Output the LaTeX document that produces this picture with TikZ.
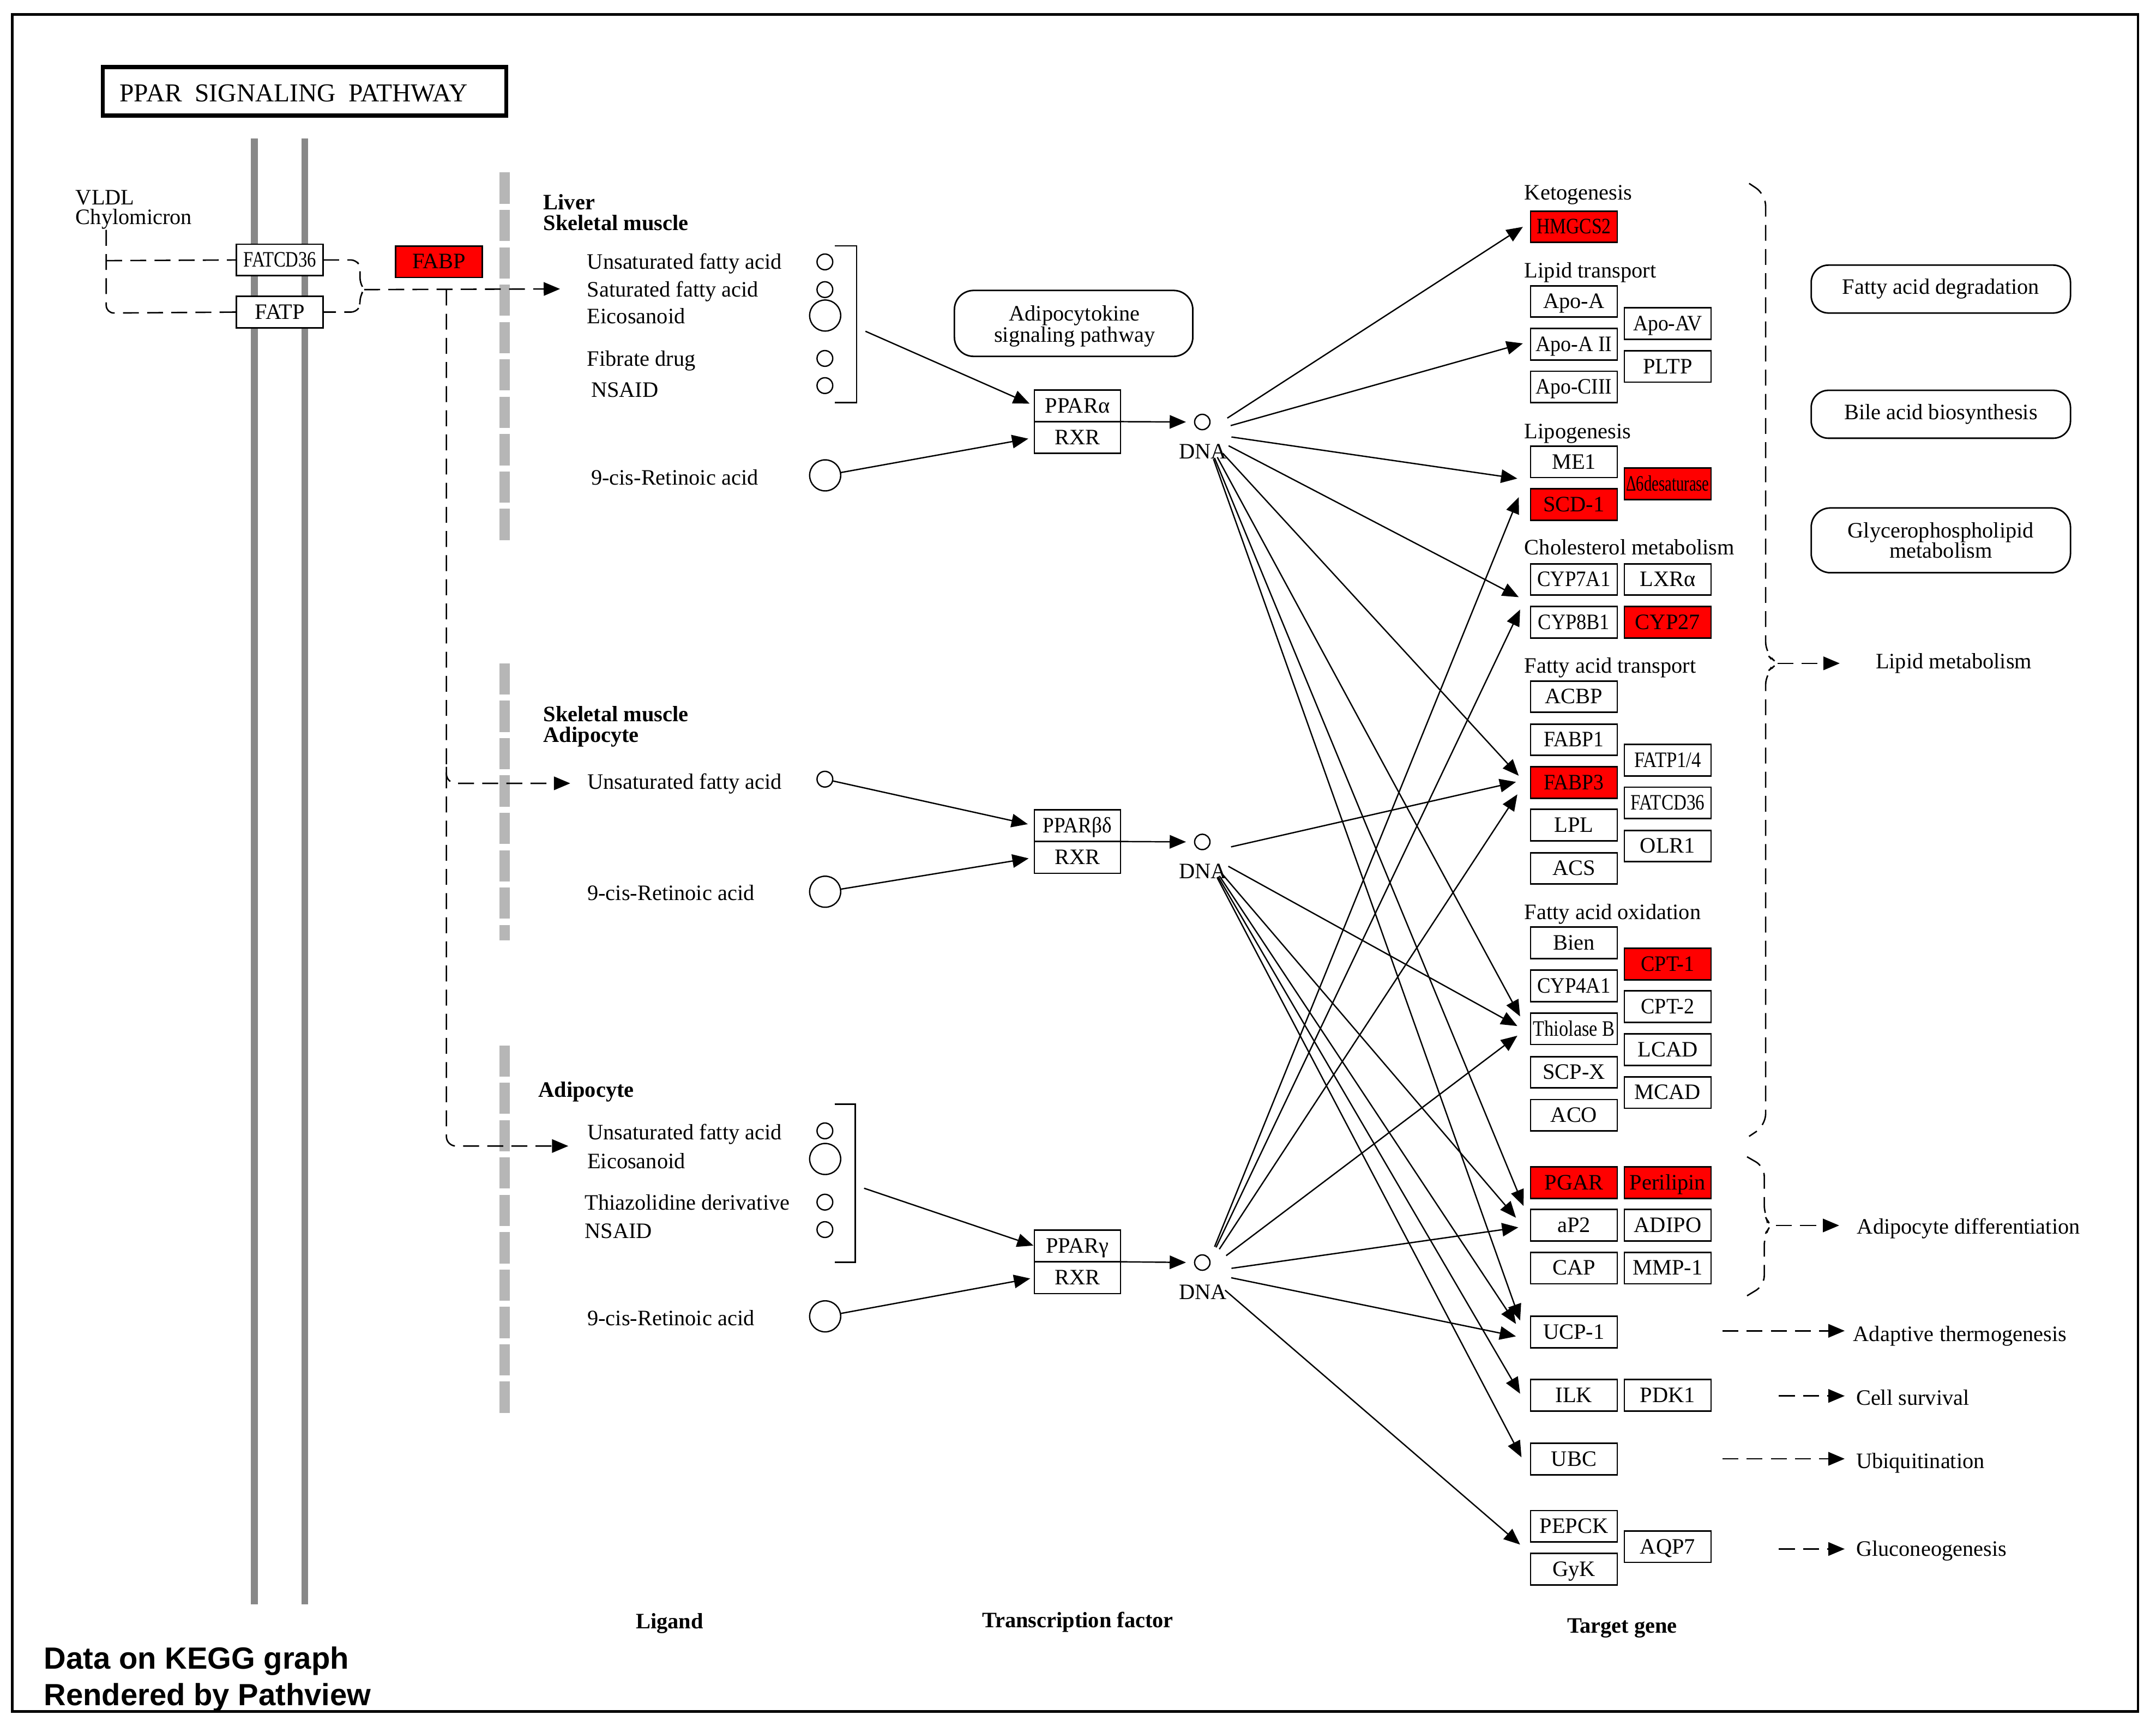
\documentclass[tikz,border=0pt]{standalone}
\usepackage{fontspec}
\usepackage{graphicx}
\setmainfont{Liberation Serif}
\newfontfamily\sansfam{Liberation Sans}
\usetikzlibrary{arrows.meta}
\definecolor{kred}{RGB}{255,0,0}
\definecolor{memgray}{RGB}{136,136,136}
\definecolor{nucgray}{RGB}{182,182,182}
\newcommand{\gf}{\fontsize{11.5}{12}\selectfont}
\newcommand{\sq}[2]{\scalebox{#1}[1]{#2}}
\begin{document}
\begin{tikzpicture}[x=0.0253cm,y=-0.0253cm,
 every node/.style={inner sep=0pt,outer sep=0pt},
 lbl/.style={anchor=base west,font=\gf},
 blbl/.style={anchor=base west,font=\gf\bfseries},
 gene/.style={draw,line width=0.8pt,fill=white,minimum width=45.2pt,minimum height=16.4pt,font=\gf,text height=7.6pt,text depth=0.3pt},
 hit/.style={gene,fill=kred},
 tf/.style={draw,line width=0.8pt,fill=white,minimum width=45pt,minimum height=16.6pt,font=\gf,text height=7.6pt,text depth=0.3pt},
 lig/.style={draw,circle,line width=0.7pt,minimum size=8.2pt},
 bigl/.style={draw,circle,line width=0.7pt,minimum size=16.2pt},
 dnac/.style={draw,circle,line width=0.7pt,minimum size=8pt},
 dnal/.style={font=\gf,text height=7.6pt,text depth=0pt},
 dzone/.style={circle,minimum size=28.7pt},
 tri/.style={-{Triangle[length=8.5pt,width=7pt]}},
 arr/.style={tri,line width=0.7pt},
 kdash/.style={line width=0.75pt,dash pattern=on 8.3pt off 4.3pt},
 pwbox/.style={draw,line width=0.8pt,align=center},
]
\useasboundingbox (0,0) rectangle (1563,1252);
\fill[white] (0,0) rectangle (1563,1252);
% outer frame
\draw[line width=1.3pt] (8.9,10.5) rectangle (1550,1241);
% title
\node[draw,line width=2.2pt,minimum width=210.6pt,minimum height=25.4pt] (titlebox) at (220.75,66.2) {};
\node[anchor=base west,font=\fontsize{13.5}{14}\selectfont] (titletext) at (86.8,73.8) {PPAR\ \ SIGNALING\ \ PATHWAY};
% membranes
\draw[line width=3.6pt,memgray] (184.5,100.5) -- (184.5,1163.2);
\draw[line width=3.6pt,memgray] (221,100.5) -- (221,1163.2);
\draw[line width=5.4pt,nucgray,dash pattern=on 16.3pt off 3.2pt] (366,125.1) -- (366,392.6);
\draw[line width=5.4pt,nucgray,dash pattern=on 16.3pt off 3.2pt] (366,481) -- (366,682);
\draw[line width=5.4pt,nucgray,dash pattern=on 16.3pt off 3.2pt] (366,758) -- (366,1025.5);
% VLDL
\node[lbl] (vldl) at (54.9,148.5) {VLDL};
\node[lbl] (chylo) at (54.9,162.5) {Chylomicron};
\node[gene] (fatcdL) at (202.9,188.5) {\sq{0.81}{FATCD36}};
\node[gene] (fatpL) at (202.9,226.3) {FATP};
\node[hit] (fabp) at (318.3,189.8) {FABP};
\draw[kdash,rounded corners=4pt] (77,166.7) -- (77,227) -- (fatpL.west);
\draw[kdash] (77,189) -- (fatcdL.west);
\coordinate (bt) at (264,210);
\draw[kdash,rounded corners=2.5pt] (fatcdL.east) -- (258,188.5) -- (261,193) -- (261,205) -- (bt) -- (261,215) -- (261,222) -- (258,226.3) -- (fatpL.east);
\coordinate (fa1) at (406,209.5);
\coordinate (fa2) at (413.4,568);
\coordinate (fa3) at (412,831);
\draw[kdash,tri] (bt) -- (fa1);
\draw[kdash,tri,rounded corners=5pt] (323.6,210) -- (323.6,831) -- (fa3);
\draw[kdash,tri,rounded corners=5pt] (323.6,556) -- (323.6,568) -- (fa2);
% ---------- section 1
\node[blbl] (liver) at (394,152) {Liver};
\node[blbl] (skm1) at (394,167) {Skeletal muscle};
\node[lbl] (t1a) at (425.7,195.2) {Unsaturated fatty acid};
\node[lbl] (t1b) at (425.7,215.2) {Saturated fatty acid};
\node[lbl] (t1c) at (425.7,234.5) {Eicosanoid};
\node[lbl] (t1d) at (425.7,265.5) {Fibrate drug};
\node[lbl] (t1e) at (428.5,288) {NSAID};
\node[lbl] (t1f) at (428.5,351.5) {9-cis-Retinoic acid};
\node[lig] (c1a) at (598,189.9) {};
\node[lig] (c1b) at (598,210) {};
\node[bigl] (c1c) at (598.2,228.8) {};
\node[lig] (c1d) at (598,259.9) {};
\node[lig] (c1e) at (598,279.6) {};
\node[bigl] (ret1) at (598.2,344.7) {};
\draw[line width=0.8pt] (605,178.3) -- (621,178.3) -- (621,292) -- (605,292);
\node[tf] (ppara) at (781.1,294.2) {PPARα};
\node[tf] (rxra) at (781.1,317.3) {RXR};
\coordinate (brk1) at (627.4,240.2);
\draw[arr,shorten >=2.7pt] (brk1) -- (ppara.west);
\draw[arr,shorten >=3.2pt] (ret1) -- (rxra.west);
\node[draw,line width=0.8pt,rounded corners=10pt,minimum width=124.4pt,minimum height=34.4pt] (adipok) at (778.3,234.5) {};
\node[font=\fontsize{11.5}{10.9}\selectfont,align=center] (adipokt) at (779,236.5) {Adipocytokine\\signaling pathway};
\node[dnac] (dna1) at (871.6,306) {};
\node[dnal] (dnal1) at (872,327.3) {DNA};
\draw[arr,shorten >=4.5pt] (ppara.south east) -- (dna1.west);
% ---------- section 2
\node[blbl] (skm2) at (394,523) {Skeletal muscle};
\node[blbl] (adc2) at (394,538) {Adipocyte};
\node[lbl] (t2a) at (425.8,572) {Unsaturated fatty acid};
\node[lbl] (t2b) at (425.8,653) {9-cis-Retinoic acid};
\node[lig] (uf2) at (598,565) {};
\node[bigl] (ret2) at (598.2,646.6) {};
\node[tf] (pparb) at (781.1,598.65) {\sq{0.92}{PPARβδ}};
\node[tf] (rxrb) at (781.1,621.75) {RXR};
\draw[arr,shorten >=3.5pt] (uf2) -- (pparb.west);
\draw[arr,shorten >=3pt] (ret2) -- (rxrb.west);
\node[dnac] (dna2) at (871.6,610.5) {};
\node[dnal] (dnal2) at (872,631.8) {DNA};
\draw[arr,shorten >=4.5pt] (pparb.south east) -- (dna2.west);
% ---------- section 3
\node[blbl] (adc3) at (390.4,795.5) {Adipocyte};
\node[lbl] (t3a) at (425.8,826.5) {Unsaturated fatty acid};
\node[lbl] (t3b) at (425.8,847.2) {Eicosanoid};
\node[lbl] (t3c) at (423.9,877.2) {Thiazolidine derivative};
\node[lbl] (t3d) at (423.9,898) {NSAID};
\node[lbl] (t3e) at (425.8,961) {9-cis-Retinoic acid};
\node[lig] (c3a) at (598,820) {};
\node[bigl] (c3b) at (598.2,840.4) {};
\node[lig] (c3c) at (598,871.7) {};
\node[lig] (c3d) at (598,891.6) {};
\node[bigl] (ret3) at (598.2,954.5) {};
\draw[line width=0.8pt] (605,800.6) -- (620,800.6) -- (620,915.2) -- (605,915.2);
\node[tf] (pparg) at (781.1,903.4) {PPARγ};
\node[tf] (rxrg) at (781.1,926.5) {RXR};
\coordinate (brk3) at (626.4,861.6);
\draw[arr,shorten >=0.5pt] (brk3) -- (pparg.west);
\draw[arr,shorten >=2.2pt] (ret3) -- (rxrg.west);
\node[dnac] (dna3) at (871.6,915.5) {};
\node[dnal] (dnal3) at (872,936.8) {DNA};
\draw[arr,shorten >=4.5pt] (pparg.south east) -- (dna3.west);
% bottom labels
\node[font=\gf\bfseries,anchor=base] (ligand) at (485.4,1181) {Ligand};
\node[font=\gf\bfseries,anchor=base] (tfac) at (781.3,1180) {Transcription factor};
\node[font=\gf\bfseries,anchor=base] (tgene) at (1176,1184) {Target gene};
\node[anchor=base west,font=\sansfam\bfseries\fontsize{16}{18}\selectfont] (pv1) at (31.9,1210.2) {Data on KEGG graph};
\node[anchor=base west,font=\sansfam\bfseries\fontsize{16}{18}\selectfont] (pv2) at (31.9,1236.5) {Rendered by Pathview};
% ---------- target genes
\node[lbl] (gketo) at (1105.2,145) {Ketogenesis};
\node[lbl] (glipt) at (1105.2,201.4) {Lipid transport};
\node[lbl] (glipo) at (1105.2,318.2) {Lipogenesis};
\node[lbl] (gchol) at (1105.2,402.2) {Cholesterol metabolism};
\node[lbl] (gfat) at (1105.2,487.9) {Fatty acid transport};
\node[lbl] (gfao) at (1105.2,666.7) {Fatty acid oxidation};
\node[hit] (hmgcs2) at (1141,164.4) {\sq{0.83}{HMGCS2}};
\node[gene] (apoa) at (1141,218.6) {Apo-A};
\node[gene] (apoa2) at (1141,249.7) {\sq{0.94}{Apo-A II}};
\node[gene] (apoc3) at (1141,280.6) {\sq{0.93}{Apo-CIII}};
\node[gene] (me1) at (1141,334.9) {ME1};
\node[hit] (scd1) at (1141,365.9) {SCD-1};
\node[gene] (cyp7a1) at (1141,420.2) {\sq{0.91}{CYP7A1}};
\node[gene] (cyp8b1) at (1141,451.3) {\sq{0.9}{CYP8B1}};
\node[gene] (acbp) at (1141,505.2) {ACBP};
\node[gene] (fabp1) at (1141,536.4) {\sq{0.93}{FABP1}};
\node[hit] (fabp3) at (1141,567.4) {\sq{0.93}{FABP3}};
\node[gene] (lpl) at (1141,598.3) {LPL};
\node[gene] (acs) at (1141,629.7) {ACS};
\node[gene] (bien) at (1141,683.6) {Bien};
\node[gene] (cyp4a1) at (1141,714.9) {\sq{0.91}{CYP4A1}};
\node[gene] (thiob) at (1141,746) {\sq{0.85}{Thiolase B}};
\node[gene] (scpx) at (1141,777.5) {SCP-X};
\node[gene] (aco) at (1141,808.7) {ACO};
\node[hit] (pgar) at (1141,857.6) {PGAR};
\node[gene] (ap2) at (1141,888.4) {aP2};
\node[gene] (cap) at (1141,919.5) {CAP};
\node[gene] (ucp1) at (1141,965.9) {UCP-1};
\node[gene] (ilk) at (1141,1011.7) {ILK};
\node[gene] (ubc) at (1141,1058) {UBC};
\node[gene] (pepck) at (1141,1106.7) {PEPCK};
\node[gene] (gyk) at (1141,1137.8) {GyK};
\node[gene] (apoav) at (1209,234.6) {\sq{0.93}{Apo-AV}};
\node[gene] (pltp) at (1209,265.7) {PLTP};
\node[hit] (d6) at (1209,350.9) {\sq{0.71}{Δ6desaturase}};
\node[gene] (lxra) at (1209,420.2) {LXRα};
\node[hit] (cyp27) at (1209,451.3) {CYP27};
\node[gene] (fatp14) at (1209,551.3) {\sq{0.86}{FATP1/4}};
\node[gene] (fatcd36) at (1209,582.2) {\sq{0.82}{FATCD36}};
\node[gene] (olr1) at (1209,613.5) {OLR1};
\node[hit] (cpt1) at (1209,699) {\sq{0.94}{CPT-1}};
\node[gene] (cpt2) at (1209,729.9) {\sq{0.94}{CPT-2}};
\node[gene] (lcad) at (1209,761.2) {LCAD};
\node[gene] (mcad) at (1209,792.2) {MCAD};
\node[hit] (perilipin) at (1209,857.6) {Perilipin};
\node[gene] (adipo) at (1209,888.4) {ADIPO};
\node[gene] (mmp1) at (1209,919.5) {MMP-1};
\node[gene] (pdk1) at (1209,1011.7) {PDK1};
\node[gene] (aqp7) at (1209,1121.5) {AQP7};
% ---------- DNA -> target edges
\node[dzone] (dz1) at (873,314) {};
\node[dzone] (dz2) at (873,618.5) {};
\node[dzone] (dz3) at (873,922.5) {};
\foreach \n/\x/\y in {a1/1104/164.5, a2/1104/249, a3/1100/347, a4/1101/433, a5/1101/562.5, a6/1102/737, a7/1104.5/874.5, a8/1102/957.5,
  b1/1099/567, b2/1100/744, b3/1099/883, b4/1099/960, b5/1102/1010.6, b6/1103/1056.7,
  c1/1101/360.5, c2/1102/442, c3/1100/576, c4/1100/751, c5/1100.7/890, c6/1099/969, c7/1102/1120}
  {\coordinate (\n) at (\x,\y);}
\foreach \t in {a1,a2,a3,a4,a5,a6,a7,a8} {\draw[arr] (dz1) -- (\t);}
\foreach \t in {b1,b2,b3,b4,b5,b6} {\draw[arr] (dz2) -- (\t);}
\foreach \t in {c1,c2,c3,c4,c5,c6,c7} {\draw[arr] (dz3) -- (\t);}
% ---------- right side
\draw[kdash,rounded corners=6pt] (1268,133) -- (1280,141) -- (1280,474) -- (1288.6,481) -- (1280,488) -- (1280,816) -- (1268,824);
\coordinate (lbt) at (1288.6,481);
\coordinate (lmt) at (1333.7,481);
\draw[kdash,tri] (lbt) -- (lmt);
\node[lbl] (lipmet) at (1359.8,485) {Lipid metabolism};
\draw[kdash,rounded corners=5pt] (1266.5,838.8) -- (1279,846) -- (1279,881) -- (1283.5,888.6) -- (1279,896) -- (1279,932) -- (1266.5,939.6);
\coordinate (abt) at (1287.5,888.6);
\coordinate (amt) at (1333.3,888.6);
\draw[kdash,tri] (abt) -- (amt);
\node[lbl] (adiff) at (1346.3,894.7) {Adipocyte differentiation};
\coordinate (u0) at (1248.7,965); \coordinate (u1) at (1337.3,965);
\draw[kdash,tri] (u0) -- (u1);
\node[lbl] (adth) at (1343.5,972.8) {Adaptive thermogenesis};
\coordinate (s0) at (1289.6,1012.2); \coordinate (s1) at (1337.3,1012.2);
\draw[kdash,tri] (s0) -- (s1);
\node[lbl] (csurv) at (1345.6,1018.7) {Cell survival};
\coordinate (q0) at (1248.7,1057.8); \coordinate (q1) at (1337.3,1057.8);
\draw[kdash,tri] (q0) -- (q1);
\node[lbl] (ubiq) at (1345.6,1064.7) {Ubiquitination};
\coordinate (g0) at (1289.6,1123.2); \coordinate (g1) at (1337.3,1123.2);
\draw[kdash,tri] (g0) -- (g1);
\node[lbl] (gluco) at (1345.6,1128.2) {Gluconeogenesis};
\node[pwbox,rounded corners=9pt,minimum width=135.3pt,minimum height=25pt,font=\gf] (fad) at (1407,209.6) {Fatty acid degradation};
\node[pwbox,rounded corners=9pt,minimum width=135.3pt,minimum height=25pt,font=\gf] (bab) at (1407,300.4) {Bile acid biosynthesis};
\node[pwbox,rounded corners=10pt,minimum width=135.3pt,minimum height=33.8pt,font=\fontsize{11.5}{10.7}\selectfont] (gpm) at (1407,391.8) {Glycerophospholipid\\metabolism};
\end{tikzpicture}
\end{document}
